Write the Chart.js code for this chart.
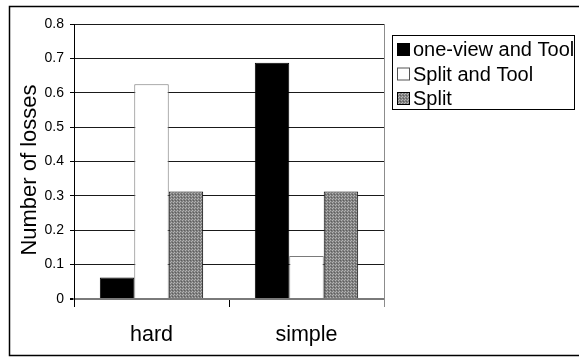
<!DOCTYPE html>
<html>
<head>
<meta charset="utf-8">
<script src="https://cdn.jsdelivr.net/npm/chart.js@4.4.1/dist/chart.umd.min.js"></script>
<style>
  html, body { margin: 0; padding: 0; background: #fff; }
  #wrap { width: 579px; height: 358px; position: relative; }
</style>
</head>
<body>
<div id="wrap"><canvas id="c" width="579" height="358"></canvas></div>
<script>
// Losses per task difficulty
const categories = ['hard', 'simple'];
const seriesNames = ['one-view and Tool', 'Split and Tool', 'Split'];
const oneViewAndTool = [0.0625, 0.6875];
const splitAndTool = [0.625, 0.125];
const split = [0.3125, 0.3125];
const yMin = 0;
const yMax = 0.8;
const yStep = 0.1;
const yTitle = 'Number of losses';

const FONT = 'Arial, "Liberation Sans", Helvetica, sans-serif';

// Fine dotted grey fill for the "Split" bars
function dotPattern() {
  const p = document.createElement('canvas');
  p.width = 3; p.height = 3;
  const g = p.getContext('2d');
  g.fillStyle = '#808080';
  g.fillRect(0, 0, 3, 3);
  g.fillStyle = '#b4b4b4';
  g.fillRect(0, 0, 1, 1);
  g.fillRect(2, 1, 1, 1);
  g.fillStyle = '#5e5e5e';
  g.fillRect(1, 2, 1, 1);
  const ctx = document.getElementById('c').getContext('2d');
  return ctx.createPattern(p, 'repeat');
}
const splitFill = dotPattern();

// Outer frame, axis title, right border of the plot and the boxed legend
const decorations = {
  id: 'decorations',
  afterDraw(chart) {
    const ctx = chart.ctx;
    const a = chart.chartArea;
    ctx.save();
    // plot right edge
    ctx.strokeStyle = '#8c8c8c';
    ctx.lineWidth = 1;
    ctx.beginPath();
    ctx.moveTo(Math.round(a.right) + 0.5, a.top);
    ctx.lineTo(Math.round(a.right) + 0.5, a.bottom + 8);
    ctx.stroke();

    // outer frame (left, top, bottom)
    ctx.strokeStyle = '#000';
    ctx.lineWidth = 1.5;
    ctx.beginPath();
    ctx.moveTo(590, 6.5);
    ctx.lineTo(9.5, 6.5);
    ctx.lineTo(9.5, 355.5);
    ctx.lineTo(590, 355.5);
    ctx.stroke();

    // y-axis title, rotated
    ctx.save();
    ctx.translate(30, 170);
    ctx.rotate(-Math.PI / 2);
    ctx.font = '22px ' + FONT;
    ctx.fillStyle = '#000';
    ctx.textAlign = 'center';
    ctx.textBaseline = 'middle';
    ctx.fillText(yTitle, 0, 0);
    ctx.restore();

    // legend
    const lx = 392, ly = 35, lw = 182, lh = 74;
    ctx.fillStyle = '#fff';
    ctx.fillRect(lx, ly, lw, lh);
    ctx.strokeStyle = '#000';
    ctx.lineWidth = 1;
    ctx.strokeRect(lx + 0.5, ly + 0.5, lw, lh);
    ctx.font = '20px ' + FONT;
    ctx.textBaseline = 'middle';
    chart.data.datasets.forEach((ds, i) => {
      const cy = 49.5 + i * 24.5;
      ctx.fillStyle = ds.backgroundColor;
      ctx.fillRect(397, cy - 6.5, 13, 13);
      ctx.strokeStyle = i === 1 ? '#555' : '#000';
      ctx.strokeRect(397.5, cy - 6, 12, 12);
      ctx.fillStyle = '#000';
      ctx.fillText(ds.label, 413, cy + 1);
    });
    ctx.restore();
  }
};

new Chart(document.getElementById('c'), {
  type: 'bar',
  data: {
    labels: categories,
    datasets: [
      { label: seriesNames[0], data: oneViewAndTool, backgroundColor: '#000', borderColor: '#000', borderWidth: 1 },
      { label: seriesNames[1], data: splitAndTool, backgroundColor: '#fff', borderColor: '#7a7a7a', borderWidth: 1 },
      { label: seriesNames[2], data: split, backgroundColor: splitFill, borderColor: '#000', borderWidth: 1 }
    ]
  },
  options: {
    responsive: false,
    animation: false,
    devicePixelRatio: 1,
    categoryPercentage: 0.667,
    barPercentage: 1,
    layout: { padding: { left: 0, top: 24, right: 195, bottom: 0 } },
    plugins: { legend: { display: false }, tooltip: { enabled: false } },
    scales: {
      x: {
        afterFit(s) { s.height = 59; },
        grid: { drawOnChartArea: false, drawTicks: true, tickLength: 8, tickColor: '#000', offset: true },
        border: { display: true, color: '#7a7a7a', width: 2 },
        ticks: { color: '#000', font: { family: FONT, size: 21.5 }, padding: 15 }
      },
      y: {
        min: yMin,
        max: yMax,
        afterFit(s) { s.width = 74; },
        ticks: { stepSize: yStep, color: '#000', font: { family: FONT, size: 14 }, padding: 6 },
        grid: {
          color: c => (c.tick && c.tick.value === 0) ? '#7a7a7a' : '#1a1a1a',
          lineWidth: c => (c.tick && c.tick.value === 0) ? 2 : 1,
          tickLength: 4,
          tickColor: '#000'
        },
        border: { display: true, color: '#000', width: 1 }
      }
    }
  },
  plugins: [decorations]
});
</script>
</body>
</html>
